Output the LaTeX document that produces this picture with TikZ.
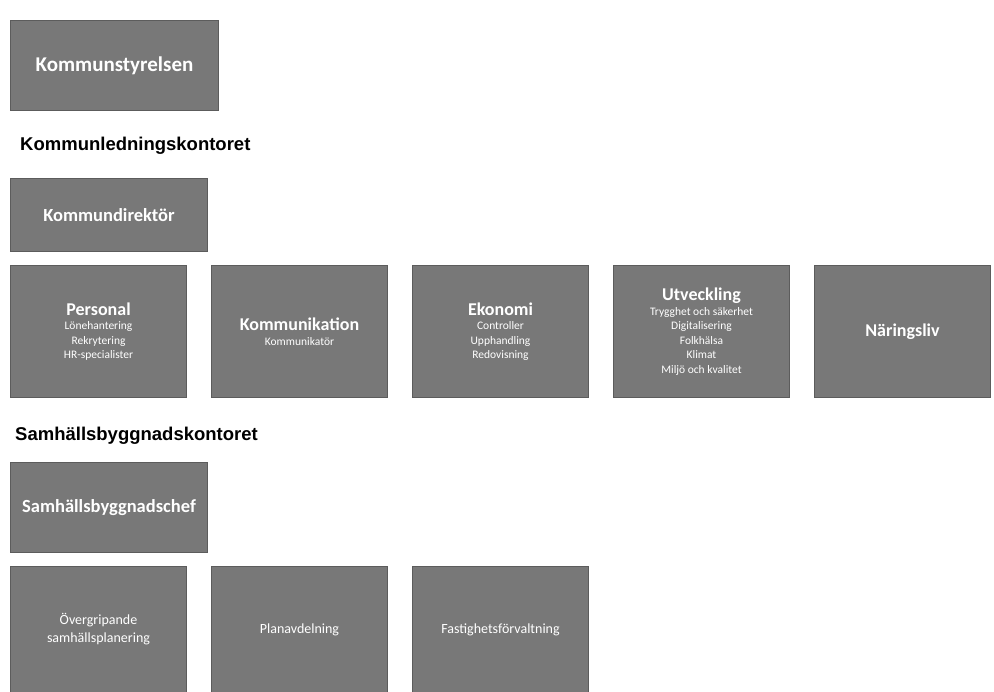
\documentclass[tikz,border=0pt]{standalone}
\usepackage{fontspec}
\setmainfont{Carlito}
\newfontfamily\headfont{Liberation Sans}
\usetikzlibrary{positioning}
\definecolor{boxgray}{RGB}{120,120,120}
\definecolor{boxedge}{RGB}{92,92,92}
\newcommand{\ttl}[1]{{\fontsize{18}{19}\selectfont\bfseries #1}}

\begin{document}
\begin{tikzpicture}[x=1pt,y=-1pt,
  unit/.style={fill=boxgray,draw=boxedge,line width=1pt,text=white,align=center,inner sep=0pt,
    font=\fontsize{11.5}{14.5}\selectfont},
  topunit/.style={unit,anchor=north west,minimum width=197pt},
  rowunit/.style={unit,minimum width=176pt,minimum height=132pt},
  lowunit/.style={unit,minimum width=176pt,minimum height=126pt,font=\fontsize{14}{18}\selectfont},
  office/.style={anchor=base west,inner sep=0pt,font=\headfont\bfseries\fontsize{18.5}{20}\selectfont}]
  \useasboundingbox[fill=white] (0,0) rectangle (994,692);
  % political level
  \node[topunit,minimum width=208pt,minimum height=90pt,font=\fontsize{21}{24}\selectfont\bfseries] (ks) at (10,20) {Kommunstyrelsen};
  % Kommunledningskontoret
  \node[office] (klk) at (20,151) {Kommunledningskontoret};
  \node[topunit,minimum height=73pt,font=\fontsize{18.5}{20}\selectfont\bfseries] (kd) at (10,178) {Kommundirektör};
  \node[rowunit,anchor=north west] (pers) at (10,265)
    {\ttl{Personal}\\Lönehantering\\Rekrytering\\HR-specialister};
  \node[rowunit,right=24pt of pers] (komm)
    {\ttl{Kommunikation}\\Kommunikatör};
  \node[rowunit,right=24pt of komm] (eko)
    {\ttl{Ekonomi}\\Controller\\Upphandling\\Redovisning};
  \node[rowunit,right=24pt of eko] (utv)
    {\ttl{Utveckling}\\Trygghet och säkerhet\\Digitalisering\\Folkhälsa\\Klimat\\Miljö och kvalitet};
  \node[rowunit,right=24pt of utv] (nl) {\ttl{Näringsliv}};
  % Samhällsbyggnadskontoret
  \node[office] (sbk) at (15,441) {Samhällsbyggnadskontoret};
  \node[topunit,minimum height=90pt,font=\fontsize{18.5}{20}\selectfont\bfseries] (sbc) at (10,462) {Samhällsbyggnadschef};
  \node[lowunit,anchor=north west] (osp) at (10,566) {Övergripande\\samhällsplanering};
  \node[lowunit,right=24pt of osp] (plan) {Planavdelning};
  \node[lowunit,right=24pt of plan] (fast) {Fastighetsförvaltning};
\end{tikzpicture}
\end{document}
